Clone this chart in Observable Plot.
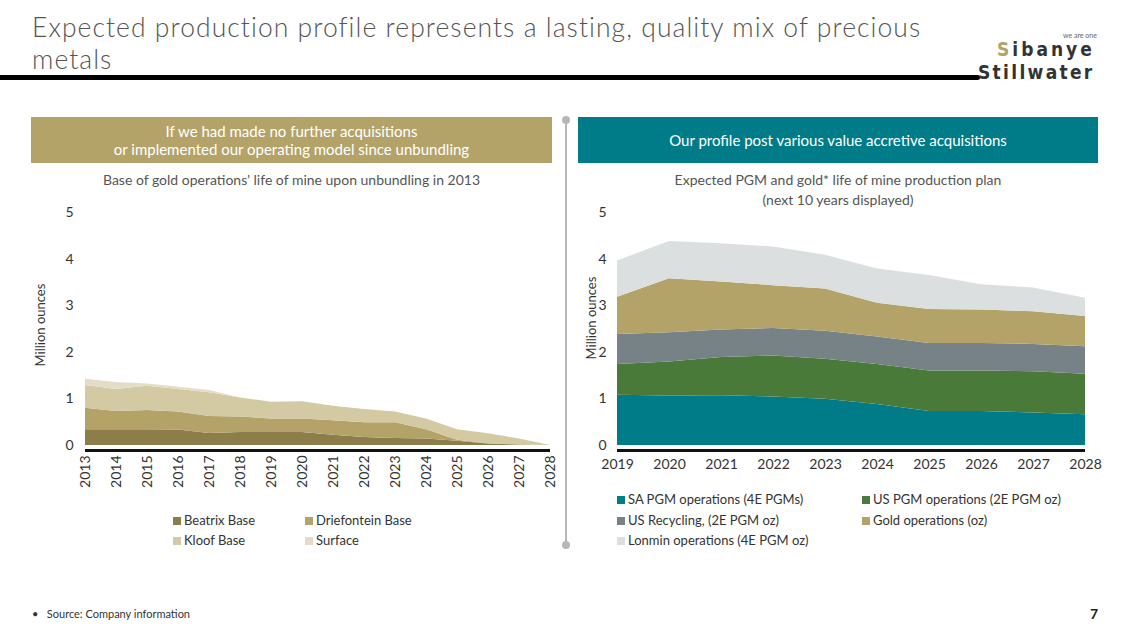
<!DOCTYPE html>
<html>
<head>
<meta charset="utf-8">
<script src="https://cdn.jsdelivr.net/npm/d3@7"></script>
<script src="https://cdn.jsdelivr.net/npm/@observablehq/plot@0.6"></script>
<style>
  html, body { margin:0; padding:0; background:#fff; }
  body { width:1129px; height:635px; position:relative; overflow:hidden; font-family: Lato, "Open Sans", sans-serif; color:#404040; }
  .abs { position:absolute; }
  .title { left:32px; font-size:26.5px; line-height:28px; color:#555; font-weight:300; letter-spacing:1.05px; white-space:nowrap; }
  .bar { left:0; top:75px; width:980px; height:5px; background:#000; border-radius:0 3px 3px 0; }
  .hdr { top:117px; height:46px; color:#fff; font-size:15px; line-height:18px; display:flex; align-items:center; justify-content:center; text-align:center; }
  .sub { font-size:14px; color:#555; text-align:center; line-height:20px; }
  .ylab { font-size:13px; color:#333; transform:rotate(-90deg); transform-origin:center; white-space:nowrap; line-height:14px; }
  .leg { font-size:13px; color:#333; white-space:nowrap; line-height:16px; }
  .sw { display:inline-block; width:8px; height:8px; margin-right:3px; vertical-align:0px; }
  .chart { position:absolute; }
  .logo { font-size:19px; line-height:19px; font-weight:bold; font-family:'DejaVu Sans Condensed','DejaVu Sans',sans-serif; color:#333; white-space:nowrap; }
</style>
</head>
<body>
<div class="abs title" style="top:13px;">Expected production profile represents a lasting, quality mix of precious</div>
<div class="abs title" style="top:45px;">metals</div>
<div class="abs bar"></div>
<div class="abs" style="left:1063px;top:31px;font-size:7px;line-height:8px;color:#666;">we are one</div>
<div class="abs logo" style="left:997px;top:40px;letter-spacing:3px;"><span style="color:#B3A369">S</span>ibanye</div>
<div class="abs logo" style="left:978px;top:63px;letter-spacing:2.3px;">Stillwater</div>

<div class="abs hdr" style="left:31px;width:521px;background:#B3A369;">If we had made no further acquisitions<br>or implemented our operating model since unbundling</div>
<div class="abs hdr" style="left:578px;width:520px;background:#007C89;">Our profile post various value accretive acquisitions</div>

<div class="abs sub" style="left:31px;width:521px;top:170px;">Base of gold operations’ life of mine upon unbundling in 2013</div>
<div class="abs sub" style="left:578px;width:520px;top:170px;">Expected PGM and gold* life of mine production plan<br>(next 10 years displayed)</div>

<div class="abs" style="left:565px;top:120px;width:2px;height:425px;background:#b5b8bb;"></div>
<div class="abs" style="left:562px;top:116px;width:8px;height:8px;border-radius:4px;background:#b5b8bb;"></div>
<div class="abs" style="left:562px;top:541px;width:8px;height:8px;border-radius:4px;background:#b5b8bb;"></div>

<div class="abs ylab" style="left:-5px;top:318px;width:90px;text-align:center;">Million ounces</div>
<div class="abs ylab" style="left:546px;top:311px;width:90px;text-align:center;">Million ounces</div>

<div id="left" class="chart" style="left:20px;top:195px;"></div>
<div id="right" class="chart" style="left:575px;top:195px;"></div>

<div class="abs" style="left:32px;top:607px;font-size:11px;color:#333;">•&nbsp;&nbsp;&nbsp;Source: Company information</div>
<div class="abs" style="left:1090px;top:605px;font-size:14px;font-weight:bold;color:#222;">7</div>

<script>
// ---- Left chart data (million ounces) ----
const yearsL = [2013,2014,2015,2016,2017,2018,2019,2020,2021,2022,2023,2024,2025,2026,2027,2028];
const seriesL = ["Beatrix Base","Driefontein Base","Kloof Base","Surface"];
const colorsL = ["#8C7E4A","#B3A369","#D3C9A2","#E3DDC8"];
const beatrix     = [0.34,0.34,0.34,0.33,0.26,0.28,0.28,0.28,0.22,0.17,0.15,0.14,0.09,0.03,0.01,0];
const driefontein = [0.46,0.39,0.41,0.39,0.36,0.33,0.29,0.29,0.31,0.32,0.34,0.20,0.02,0.01,0,0];
const kloof       = [0.49,0.47,0.52,0.48,0.51,0.41,0.36,0.37,0.31,0.28,0.23,0.23,0.23,0.21,0.13,0];
const surface     = [0.13,0.15,0.05,0.05,0.05,0,0,0,0,0,0,0,0,0,0,0];

// ---- Right chart data (million ounces) ----
const yearsR = [2019,2020,2021,2022,2023,2024,2025,2026,2027,2028];
const seriesR = ["SA PGM operations (4E PGMs)","US PGM operations (2E PGM oz)","US Recycling, (2E PGM oz)","Gold operations (oz)","Lonmin operations (4E PGM oz)"];
const colorsR = ["#007C89","#4A7A3A","#778286","#B3A369","#DCDFE0"];
const saPgm     = [1.08,1.06,1.07,1.04,0.99,0.88,0.73,0.73,0.70,0.66];
const usPgm     = [0.66,0.73,0.82,0.88,0.86,0.86,0.87,0.87,0.88,0.87];
const usRecycle = [0.64,0.63,0.59,0.59,0.60,0.59,0.59,0.59,0.59,0.59];
const goldOps   = [0.80,1.16,1.03,0.92,0.91,0.72,0.73,0.72,0.70,0.65];
const lonmin    = [0.78,0.80,0.82,0.83,0.72,0.74,0.73,0.54,0.51,0.39];

const yTicks = [0,1,2,3,4,5];

function tidy(years, names, arrays) {
  const rows = [];
  names.forEach((s, i) => years.forEach((yr, j) => rows.push({year: yr, series: s, value: arrays[i][j]})));
  return rows;
}
const rowsL = tidy(yearsL, seriesL, [beatrix, driefontein, kloof, surface]);
const rowsR = tidy(yearsR, seriesR, [saPgm, usPgm, usRecycle, goldOps, lonmin]);

const baseStyle = {fontFamily: "Lato, 'Open Sans', sans-serif", fontSize: "14px", color: "#333", background: "transparent", overflow: "visible"};

const left = Plot.plot({
  width: 545, height: 300,
  marginLeft: 65, marginRight: 15, marginTop: 17, marginBottom: 50,
  style: baseStyle,
  x: {domain: [2013, 2028], ticks: yearsL, tickFormat: d => String(d), tickRotate: -90, tickSize: 0, tickPadding: 10, label: null},
  y: {domain: [0, 5], ticks: yTicks, tickFormat: d => String(d), tickSize: 0, tickPadding: 12, label: null},
  color: {domain: seriesL, range: colorsL},
  marks: [
    Plot.areaY(rowsL, {x: "year", y: "value", z: "series", fill: "series", order: seriesL}),
    Plot.ruleY([0], {dy: 5, stroke: "#111", strokeWidth: 3})
  ]
});
document.getElementById("left").appendChild(left);

const right = Plot.plot({
  width: 540, height: 300,
  marginLeft: 42, marginRight: 30, marginTop: 17, marginBottom: 50,
  style: baseStyle,
  x: {domain: [2019, 2028], ticks: yearsR, tickFormat: d => String(d), tickSize: 0, tickPadding: 14, label: null},
  y: {domain: [0, 5], ticks: yTicks, tickFormat: d => String(d), tickSize: 0, tickPadding: 11, label: null},
  color: {domain: seriesR, range: colorsR},
  marks: [
    Plot.areaY(rowsR, {x: "year", y: "value", z: "series", fill: "series", order: seriesR}),
    Plot.ruleY([0], {dy: 5, stroke: "#111", strokeWidth: 3})
  ]
});
document.getElementById("right").appendChild(right);

// ---- Legends ----
function legendItem(name, color, x, y) {
  const d = document.createElement("div");
  d.className = "abs leg";
  d.style.left = x + "px"; d.style.top = y + "px";
  d.innerHTML = `<span class="sw" style="background:${color}"></span>${name}`;
  document.body.appendChild(d);
}
const legLPos = [[173,512],[305,512],[173,532],[305,532]];
seriesL.forEach((s, i) => legendItem(s, colorsL[i], legLPos[i][0], legLPos[i][1]));
const legRPos = [[617,491],[862,491],[617,512],[862,512],[617,532]];
seriesR.forEach((s, i) => legendItem(s, colorsR[i], legRPos[i][0], legRPos[i][1]));
</script>
</body>
</html>
